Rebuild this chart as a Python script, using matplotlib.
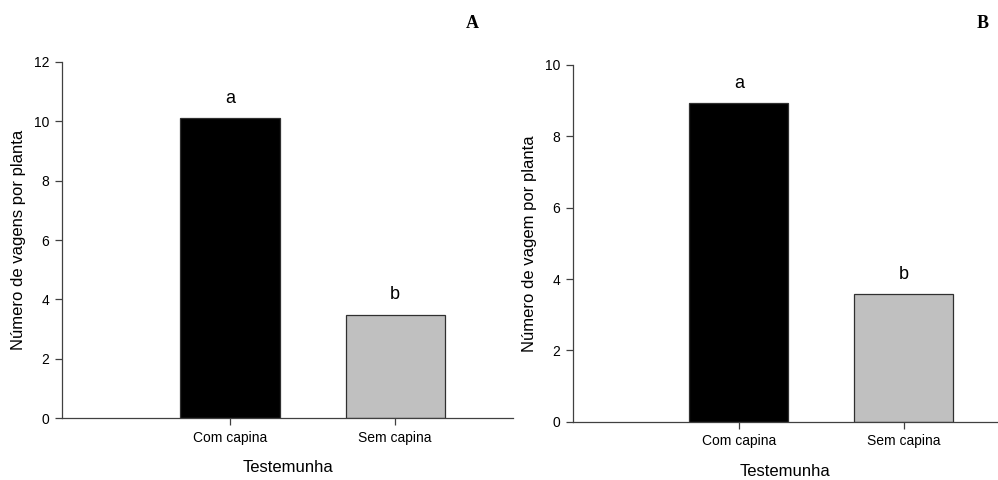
import matplotlib
matplotlib.use("Agg")
import matplotlib.pyplot as plt

plt.rcParams['font.family'] = ['Liberation Sans', 'DejaVu Sans']

categorias = ["Com capina", "Sem capina"]
vagens_a = [10.1, 3.47]
vagens_b = [8.92, 3.57]
letras = ["a", "b"]
cores = ["#000000", "#c0c0c0"]

fig = plt.figure(figsize=(9.98, 4.8), dpi=100)

ax1 = fig.add_axes([0.0621, 0.129, 0.452, 0.742])
ax2 = fig.add_axes([0.574, 0.121, 0.426, 0.744])


def painel(ax, valores, ymax, ylabel, xlim):
    x = range(len(categorias))
    ax.bar(x, valores, width=0.6, color=cores, edgecolor="#303030", linewidth=0.9)
    for xi, v, l in zip(x, valores, letras):
        ax.text(xi, v + ymax * 0.033, l, ha="center", va="bottom", fontsize=13)
    ax.set_ylim(0, ymax)
    ax.set_xlim(*xlim)
    ax.set_yticks(range(0, ymax + 1, 2))
    ax.set_xticks(list(x))
    ax.set_xticklabels(categorias)
    ax.spines["top"].set_visible(False)
    ax.spines["right"].set_visible(False)
    for s in ["left", "bottom"]:
        ax.spines[s].set_color("#404040")
        ax.spines[s].set_linewidth(0.9)
    ax.tick_params(direction="out", length=5, width=0.9, color="#404040",
                   labelsize=10, pad=4)
    ax.set_ylabel(ylabel, fontsize=12, labelpad=6)
    ax.set_xlabel("Testemunha", fontsize=12, labelpad=11)


painel(ax1, vagens_a, 12, "Número de vagens por planta", (-1.018, 1.715))
painel(ax2, vagens_b, 10, "Número de vagem por planta", (-1.006, 1.57))

fig.text(472 / 998, 1 - 23 / 480, "A", fontsize=13, fontweight="bold",
         family="Liberation Serif", ha="center", va="center")
fig.text(983 / 998, 1 - 23 / 480, "B", fontsize=13, fontweight="bold",
         family="Liberation Serif", ha="center", va="center")

fig.savefig("out.png", dpi=100)
